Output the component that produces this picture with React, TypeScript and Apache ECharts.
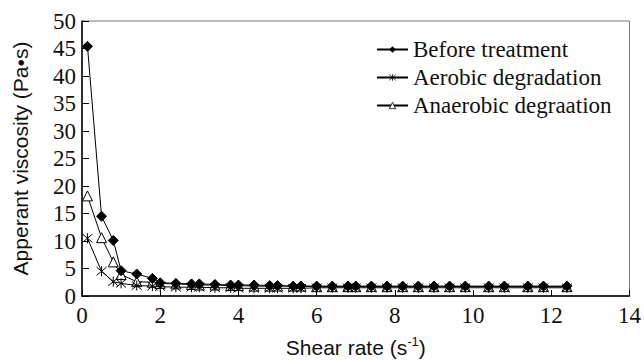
import React, { useEffect, useRef } from "react";
import * as echarts from "echarts";

const shearRate = [0.14, 0.5, 0.8, 1.0, 1.4, 1.8, 2.0, 2.4, 2.8, 3.0, 3.4, 3.8, 4.0, 4.4, 4.8, 5.0, 5.4, 5.6, 6.0, 6.4, 6.8, 7.0, 7.4, 7.8, 8.2, 8.6, 9.0, 9.4, 9.8, 10.4, 10.8, 11.4, 11.8, 12.4];
const beforeTreatment = [45.4, 14.5, 10.1, 4.6, 4.0, 3.2, 2.4, 2.3, 2.2, 2.2, 2.1, 2.0, 2.0, 2.0, 1.9, 1.9, 1.8, 1.8, 1.8, 1.8, 1.8, 1.8, 1.8, 1.8, 1.8, 1.8, 1.8, 1.8, 1.8, 1.8, 1.8, 1.8, 1.8, 1.8];
const aerobic = [10.5, 4.5, 2.6, 2.3, 1.9, 1.8, 1.7, 1.6, 1.6, 1.6, 1.5, 1.5, 1.4, 1.4, 1.4, 1.4, 1.4, 1.4, 1.5, 1.5, 1.5, 1.5, 1.5, 1.5, 1.5, 1.5, 1.5, 1.5, 1.5, 1.5, 1.5, 1.5, 1.5, 1.5];
const anaerobic = [18.2, 10.6, 6.2, 3.9, 2.6, 2.5, 2.3, 2.2, 2.1, 2.0, 2.0, 1.9, 1.9, 1.8, 1.8, 1.8, 1.8, 1.8, 1.7, 1.7, 1.7, 1.7, 1.7, 1.7, 1.7, 1.7, 1.7, 1.7, 1.7, 1.7, 1.7, 1.7, 1.7, 1.7];
const seriesNames = ["Before treatment", "Aerobic degradation", "Anaerobic degraation"];

const pairs = (ys: number[]) => shearRate.map((x, i) => [x, ys[i]]);

const asterisk = "path://M0,0L10,10M10,0L0,10M5,-1L5,11M5,-1";

export default function App() {
  const ref = useRef<HTMLDivElement>(null);
  useEffect(() => {
    const chart = echarts.init(ref.current!, null, { renderer: "svg" });
    const serif = "Liberation Serif";
    const sans = "Liberation Sans";
    const lineBase = {
      type: "line" as const,
      lineStyle: { color: "#000", width: 1 },
      itemStyle: { color: "#000", borderColor: "#000" },
    };
    chart.setOption({
      animation: false,
      backgroundColor: "#fff",
      grid: {
        left: 82,
        right: 10,
        top: 21,
        bottom: 65,
        show: true,
        borderColor: "#777",
        borderWidth: 1,
      },
      legend: {
        orient: "vertical",
        left: 371,
        top: 33,
        itemWidth: 31,
        itemHeight: 8,
        itemGap: 5,
        textStyle: { fontFamily: serif, fontSize: 23, color: "#111" },
        data: [
          { name: seriesNames[0] },
          { name: seriesNames[1], itemStyle: { color: "none", borderColor: "#000", borderWidth: 0.8 } },
          { name: seriesNames[2], itemStyle: { color: "#fff", borderColor: "#000", borderWidth: 0.8 } },
        ],
      },
      xAxis: {
        type: "value",
        min: 0,
        max: 14,
        interval: 2,
        name: "Shear rate (s{sup|-1})",
        nameLocation: "middle",
        nameGap: 39,
        nameTextStyle: {
          fontFamily: sans,
          fontSize: 21,
          color: "#111",
          rich: { sup: { fontFamily: sans, fontSize: 13, verticalAlign: "top", padding: [0, 0, 12, 0], color: "#111" } },
        },
        axisLine: { lineStyle: { color: "#000", width: 1.5 } },
        axisTick: { inside: true, length: 6, lineStyle: { color: "#000" } },
        axisLabel: { fontFamily: serif, fontSize: 23, color: "#111", margin: 8 },
        splitLine: { show: false },
      },
      yAxis: {
        type: "value",
        min: 0,
        max: 50,
        interval: 5,
        name: "Apperant viscosity (Pa•s)",
        nameLocation: "middle",
        nameGap: 51,
        nameTextStyle: { fontFamily: sans, fontSize: 21, color: "#111" },
        axisLine: { lineStyle: { color: "#000", width: 1.5 } },
        axisTick: { inside: true, length: 7, lineStyle: { color: "#000" } },
        axisLabel: { fontFamily: serif, fontSize: 23, color: "#111", margin: 6 },
        splitLine: { show: false },
      },
      series: [
        {
          ...lineBase,
          name: seriesNames[0],
          symbol: "diamond",
          symbolSize: 10,
          data: pairs(beforeTreatment),
          z: 3,
        },
        {
          ...lineBase,
          name: seriesNames[1],
          symbol: asterisk,
          symbolSize: 10,
          itemStyle: { color: "none", borderColor: "#000", borderWidth: 1 },
          data: pairs(aerobic),
          z: 4,
        },
        {
          ...lineBase,
          name: seriesNames[2],
          symbol: "triangle",
          symbolSize: 10,
          itemStyle: { color: "#fff", borderColor: "#000", borderWidth: 1 },
          data: pairs(anaerobic),
          z: 2,
        },
      ],
    });
    return () => chart.dispose();
  }, []);
  return <div ref={ref} style={{ width: 644, height: 363, position: "absolute", left: 0, top: 0 }} />;
}
